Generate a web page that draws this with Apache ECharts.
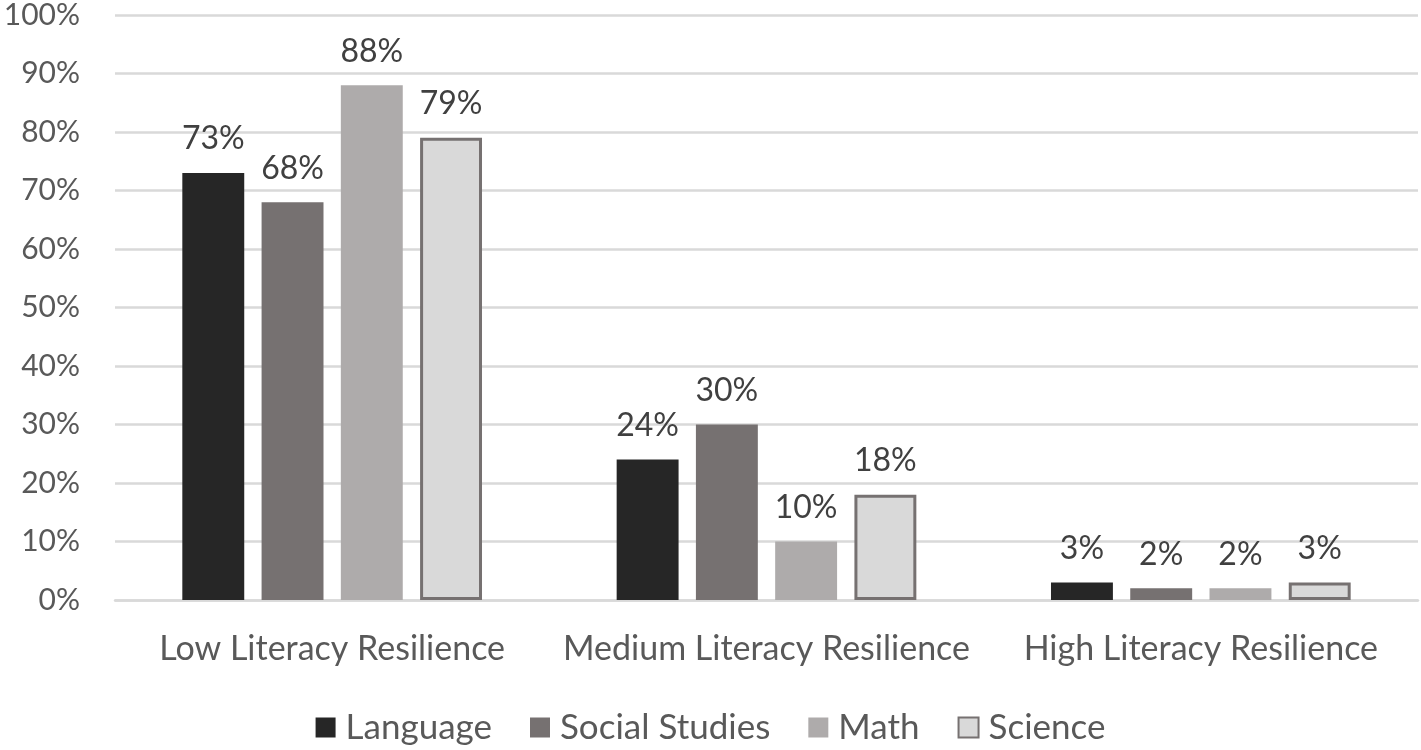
<!DOCTYPE html>
<html>
<head>
<meta charset="utf-8">
<script src="https://cdn.jsdelivr.net/npm/echarts@6/dist/echarts.min.js"></script>
<style>
  html, body { margin: 0; padding: 0; background: #fff; }
  #chart { width: 1421px; height: 750px; }
</style>
</head>
<body>
<div id="chart"></div>
<script>
var categories = ['Low Literacy Resilience', 'Medium Literacy Resilience', 'High Literacy Resilience'];
var seriesNames = ['Language', 'Social Studies', 'Math', 'Science'];
var language = [73, 24, 3];
var socialStudies = [68, 30, 2];
var math = [88, 10, 2];
var science = [79, 18, 3];

var FONT = 'Lato, "Open Sans", sans-serif';
var colors = ['#262626', '#767171', '#AEABAB', '#D9D9D9'];

function makeSeries(name, data, i) {
  var s = {
    name: name,
    type: 'bar',
    data: data,
    barGap: '28%',
    barCategoryGap: '31%',
    itemStyle: { color: colors[i] },
    label: {
      show: true,
      position: 'top',
      distance: 18,
      formatter: '{c}%',
      color: '#404040',
      fontSize: 32,
      fontFamily: FONT
    }
  };
  if (i === 3) {
    s.itemStyle.borderColor = '#767171';
    s.itemStyle.borderWidth = 3;
  }
  return s;
}

var chart = echarts.init(document.getElementById('chart'));
chart.setOption({
  animation: false,
  color: colors,
  grid: { left: 115, right: 3, top: 15, bottom: 150, containLabel: false },
  legend: {
    bottom: 0,
    left: 'center',
    itemWidth: 20,
    itemHeight: 20,
    itemGap: 38,
    icon: 'rect',
    textStyle: { color: '#595959', fontSize: 35, fontFamily: FONT, padding: [0, 0, 0, 5] },
    data: seriesNames
  },
  xAxis: {
    type: 'category',
    data: categories,
    axisLine: { show: true, lineStyle: { color: '#D9D9D9', width: 2.5 } },
    axisTick: { show: false },
    axisLabel: { interval: 0, color: '#595959', fontSize: 34, fontFamily: FONT, margin: 32 }
  },
  yAxis: {
    type: 'value',
    min: 0,
    max: 100,
    interval: 10,
    axisLine: { show: false },
    axisTick: { show: false },
    splitLine: { lineStyle: { color: '#D9D9D9', width: 2.5 } },
    axisLabel: { formatter: '{value}%', color: '#595959', fontSize: 30, fontFamily: FONT, margin: 35 }
  },
  series: [
    makeSeries(seriesNames[0], language, 0),
    makeSeries(seriesNames[1], socialStudies, 1),
    makeSeries(seriesNames[2], math, 2),
    makeSeries(seriesNames[3], science, 3)
  ]
});
</script>
</body>
</html>
